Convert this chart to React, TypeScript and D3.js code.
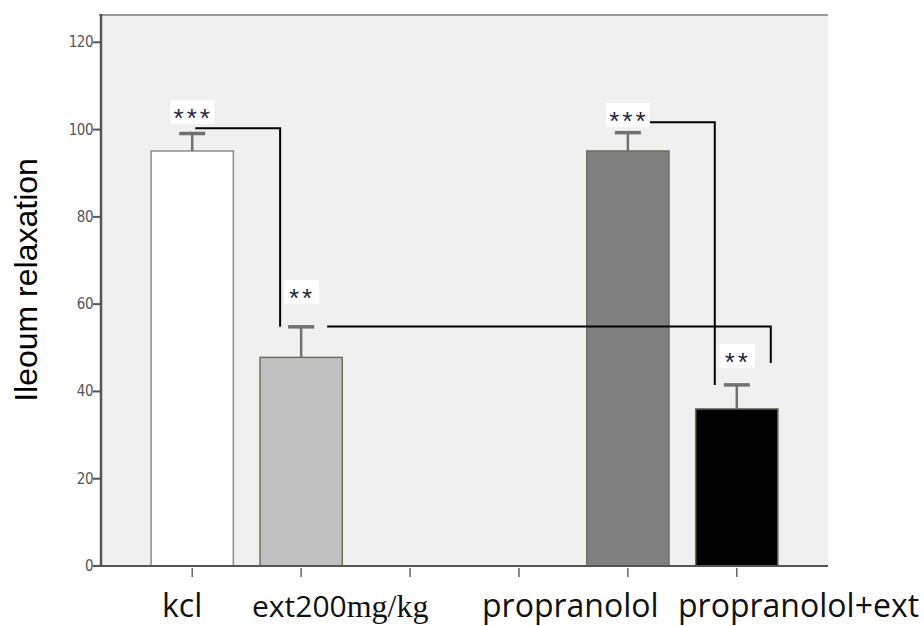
import React from 'react';
import * as d3 from 'd3';

// groups on the x axis (two empty slots between ext and propranolol)
const categories = ['kcl', 'ext200', 'gap1', 'gap2', 'propranolol', 'propranolol+ext'];
const barCategories = ['kcl', 'ext200', 'propranolol', 'propranolol+ext'];
const means = [95.1, 47.8, 95.1, 36.0];
const errors = [4.0, 7.0, 4.2, 5.5];
const barColors = ['#ffffff', '#c0c0c0', '#808080', '#000000'];
const yTicks = [0, 20, 40, 60, 80, 100, 120];

// significance marks: stars and the value at which they sit
const stars = ['***', '**', '***', '**'];
const starValues = [104.0, 62.8, 103.3, 48.1];

const W = 924;
const H = 626;
const left = 101;
const right = 828;
const top = 15;
const bottom = 566;

export default function App() {
  const x = d3.scaleBand<string>().domain(categories).range([left, right]).paddingInner(0.245).paddingOuter(0.46);
  const y = d3.scaleLinear().domain([0, 120]).range([bottom, 42.3]);
  const cx = (c: string) => (x(c) as number) + x.bandwidth() / 2;

  // brackets: [fromCat, dx, toCat, dx, level, endValue]
  const brackets: [string, number, string, number, number, number][] = [
    ['kcl', 3, 'ext200', -21, 100.3, 54.8],
    ['ext200', 26, 'propranolol+ext', 34, 54.9, 46.5],
    ['propranolol', 7, 'propranolol+ext', -22, 101.7, 41.5],
  ];

  return (
    <svg width={W} height={H} style={{ position: 'absolute', left: 0, top: 0 }}>
      <rect x={left} y={top} width={right - left} height={bottom - top} fill="#f0f0f0" />
      <line x1={left - 2} x2={right} y1={top} y2={top} stroke="#9a9a9a" strokeWidth={2} />

      {barCategories.map((c, i) => (
        <g key={c}>
          <rect
            x={x(c)}
            y={y(means[i])}
            width={x.bandwidth()}
            height={y(0) - y(means[i])}
            fill={barColors[i]}
            stroke={i === 0 ? '#8c8c8c' : '#6f6f5a'}
            strokeWidth={1.5}
          />
          <line x1={cx(c)} x2={cx(c)} y1={y(means[i])} y2={y(means[i] + errors[i])} stroke="#707070" strokeWidth={2.5} />
          <line x1={cx(c) - 13} x2={cx(c) + 13} y1={y(means[i] + errors[i])} y2={y(means[i] + errors[i])} stroke="#707070" strokeWidth={3.5} />
        </g>
      ))}

      {brackets.map(([a, da, b, db, lv, end], i) => (
        <path
          key={i}
          d={`M${cx(a) + da},${y(lv)}H${cx(b) + db}V${y(end)}`}
          fill="none"
          stroke="#000"
          strokeWidth={2}
        />
      ))}

      {barCategories.map((c, i) => (
        <g key={'s' + c}>
          <rect
            x={cx(c) - (stars[i].length === 3 ? 22 : 17)}
            y={y(starValues[i]) - 12}
            width={stars[i].length === 3 ? 44 : 35}
            height={24}
            fill="#fff"
          />
          <text
            x={cx(c) + 1}
            y={y(starValues[i]) + 15}
            textAnchor="middle"
            fontFamily="Liberation Sans, Arial, sans-serif"
            fontSize={26}
            letterSpacing={3}
            fill="#1d2540"
          >
            {stars[i]}
          </text>
        </g>
      ))}

      {/* y axis */}
      <line x1={left} x2={left} y1={top - 1} y2={bottom} stroke="#555" strokeWidth={2.5} />
      {yTicks.map(t => (
        <g key={t}>
          <line x1={left - 8} x2={left} y1={y(t)} y2={y(t)} stroke="#555" strokeWidth={2} />
          <text
            x={left - 8}
            y={y(t) + 5}
            textAnchor="end"
            fontFamily="Liberation Sans Narrow, DejaVu Sans Condensed, sans-serif"
            fontSize={15}
            letterSpacing={-0.5}
            fill="#555"
          >
            {t}
          </text>
        </g>
      ))}

      {/* x axis */}
      <line x1={left} x2={right} y1={bottom} y2={bottom} stroke="#555" strokeWidth={2} />
      {categories.map(c => (
        <line key={c} x1={cx(c)} x2={cx(c)} y1={bottom + 2} y2={bottom + 11} stroke="#666" strokeWidth={1.5} />
      ))}

      <g fontFamily="Open Sans, sans-serif" fontSize={32} fill="#111">
        <text x={162} y={617}>kcl</text>
        <text x={252} y={617} fontSize={30}>
          ext200<tspan fontFamily="Liberation Serif, serif" fontSize={32}>mg/kg</tspan>
        </text>
        <text x={482} y={617}>propranolol</text>
        <text x={678} y={617}>propranolol+ext</text>
      </g>

      <text
        transform={`translate(37,280) rotate(-90)`}
        textAnchor="middle"
        fontFamily="Liberation Sans, Arial, sans-serif"
        fontSize={32}
        fill="#000"
      >
        Ileoum relaxation
      </text>
    </svg>
  );
}
